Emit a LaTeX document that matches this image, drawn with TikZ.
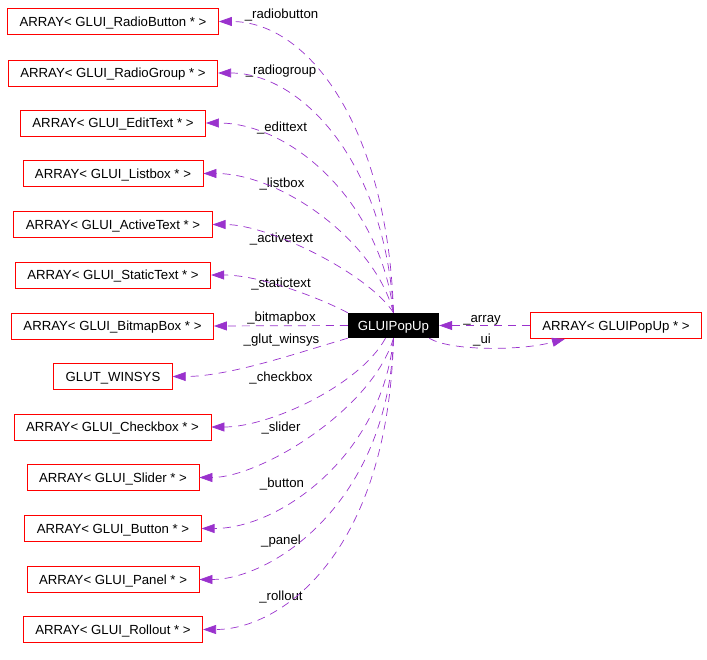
\documentclass[tikz,border=0pt]{standalone}
\usepackage{fontspec}
\setmainfont{Liberation Sans}
\usetikzlibrary{positioning}
\usetikzlibrary{arrows.meta}
\definecolor{refpurple}{RGB}{154,50,205}

\begin{document}
\begin{tikzpicture}[x=1pt, y=-1pt, font=\fontsize{13.2}{15}\selectfont,
    member/.style={draw=red, line width=0.8pt, minimum height=26pt, inner xsep=12pt, text height=9.4pt, text depth=0pt},
    popbox/.style={fill=black, text=white, minimum height=25pt, minimum width=91pt, inner xsep=0pt, text height=9.4pt, text depth=0pt},
    lbl/.style={inner sep=0pt, text height=9.4pt, text depth=0pt},
    ref/.style={draw=refpurple, line width=0.7pt, dash pattern=on 8pt off 6pt, -{Triangle[length=13pt,width=9pt]}}]
\useasboundingbox (0,0) rectangle (707,659);

\node[popbox] (pop) at (393.5,325.5) {GLUIPopUp};
\node[member] (arr) at (616,325.5) {ARRAY< GLUIPopUp * >};

\node[member] (rb) at (113,21.5) {ARRAY< GLUI\_RadioButton * >};
\node[member] (rg) at (113,73) {ARRAY< GLUI\_RadioGroup * >};
\node[member] (et) at (113,123) {ARRAY< GLUI\_EditText * >};
\node[member] (lb) at (113,173.5) {ARRAY< GLUI\_Listbox * >};
\node[member] (at) at (113,224.5) {ARRAY< GLUI\_ActiveText * >};
\node[member] (st) at (113,275) {ARRAY< GLUI\_StaticText * >};
\node[member] (bb) at (112.5,326) {ARRAY< GLUI\_BitmapBox * >};
\node[member] (gw) at (113,376.5) {GLUT\_WINSYS};
\node[member] (cb) at (112.5,427) {ARRAY< GLUI\_Checkbox * >};
\node[member] (sl) at (113,477.5) {ARRAY< GLUI\_Slider * >};
\node[member] (bt) at (113,528.5) {ARRAY< GLUI\_Button * >};
\node[member] (pn) at (113,579.5) {ARRAY< GLUI\_Panel * >};
\node[member] (ro) at (113,629.5) {ARRAY< GLUI\_Rollout * >};

% edge labels
\node[lbl] (lrb) at (281.5,14) {\_radiobutton};
\node[lbl] (lrg) at (281,70) {\_radiogroup};
\node[lbl] (let) at (282,127) {\_edittext};
\node[lbl] (llb) at (282,183) {\_listbox};
\node[lbl] (lat) at (281.5,238) {\_activetext};
\node[lbl] (lst) at (281,283) {\_statictext};
\node[lbl] (lbb) at (281.5,317) {\_bitmapbox};
\node[lbl] (lgw) at (281.5,339) {\_glut\_winsys};
\node[lbl] (lcb) at (281,377) {\_checkbox};
\node[lbl] (lsl) at (281,427) {\_slider};
\node[lbl] (lbt) at (282,483) {\_button};
\node[lbl] (lpn) at (281,540) {\_panel};
\node[lbl] (lro) at (281,596) {\_rollout};
\node[lbl] (larr) at (482,318) {\_array};
\node[lbl] (lui) at (482,339) {\_ui};

% upper members
\draw[ref] (pop.north) .. controls (388,130) and (310,21.5) .. (rb.east);
\draw[ref] (pop.north) .. controls (385,160) and (300,73) .. (rg.east);
\draw[ref] (pop.north) .. controls (380,200) and (290,123) .. (et.east);
\draw[ref] (pop.north) .. controls (375,240) and (280,173.5) .. (lb.east);
\draw[ref] (pop.north) .. controls (370,275) and (270,224.5) .. (at.east);
\draw[ref] (pop.north west) .. controls (320,298) and (260,275) .. (st.east);
\draw[ref] (pop.west) -- (bb.east);
% lower members
\draw[ref] (pop.south west) .. controls (300,352) and (230,376.5) .. (gw.east);
\draw[ref] ([xshift=-8pt]pop.south) .. controls (360,385) and (270,427) .. (cb.east);
\draw[ref] (pop.south) .. controls (372,410) and (260,477.5) .. (sl.east);
\draw[ref] (pop.south) .. controls (382,455) and (280,528.5) .. (bt.east);
\draw[ref] (pop.south) .. controls (388,505) and (270,579.5) .. (pn.east);
\draw[ref] (pop.south) .. controls (388,555) and (280,629.5) .. (ro.east);
% right side
\draw[ref] (arr.west) -- (pop.east);
\draw[ref] ([xshift=-10pt]pop.south east) .. controls (450,351) and (520,351) .. ([xshift=-51pt]arr.south);
\end{tikzpicture}
\end{document}
